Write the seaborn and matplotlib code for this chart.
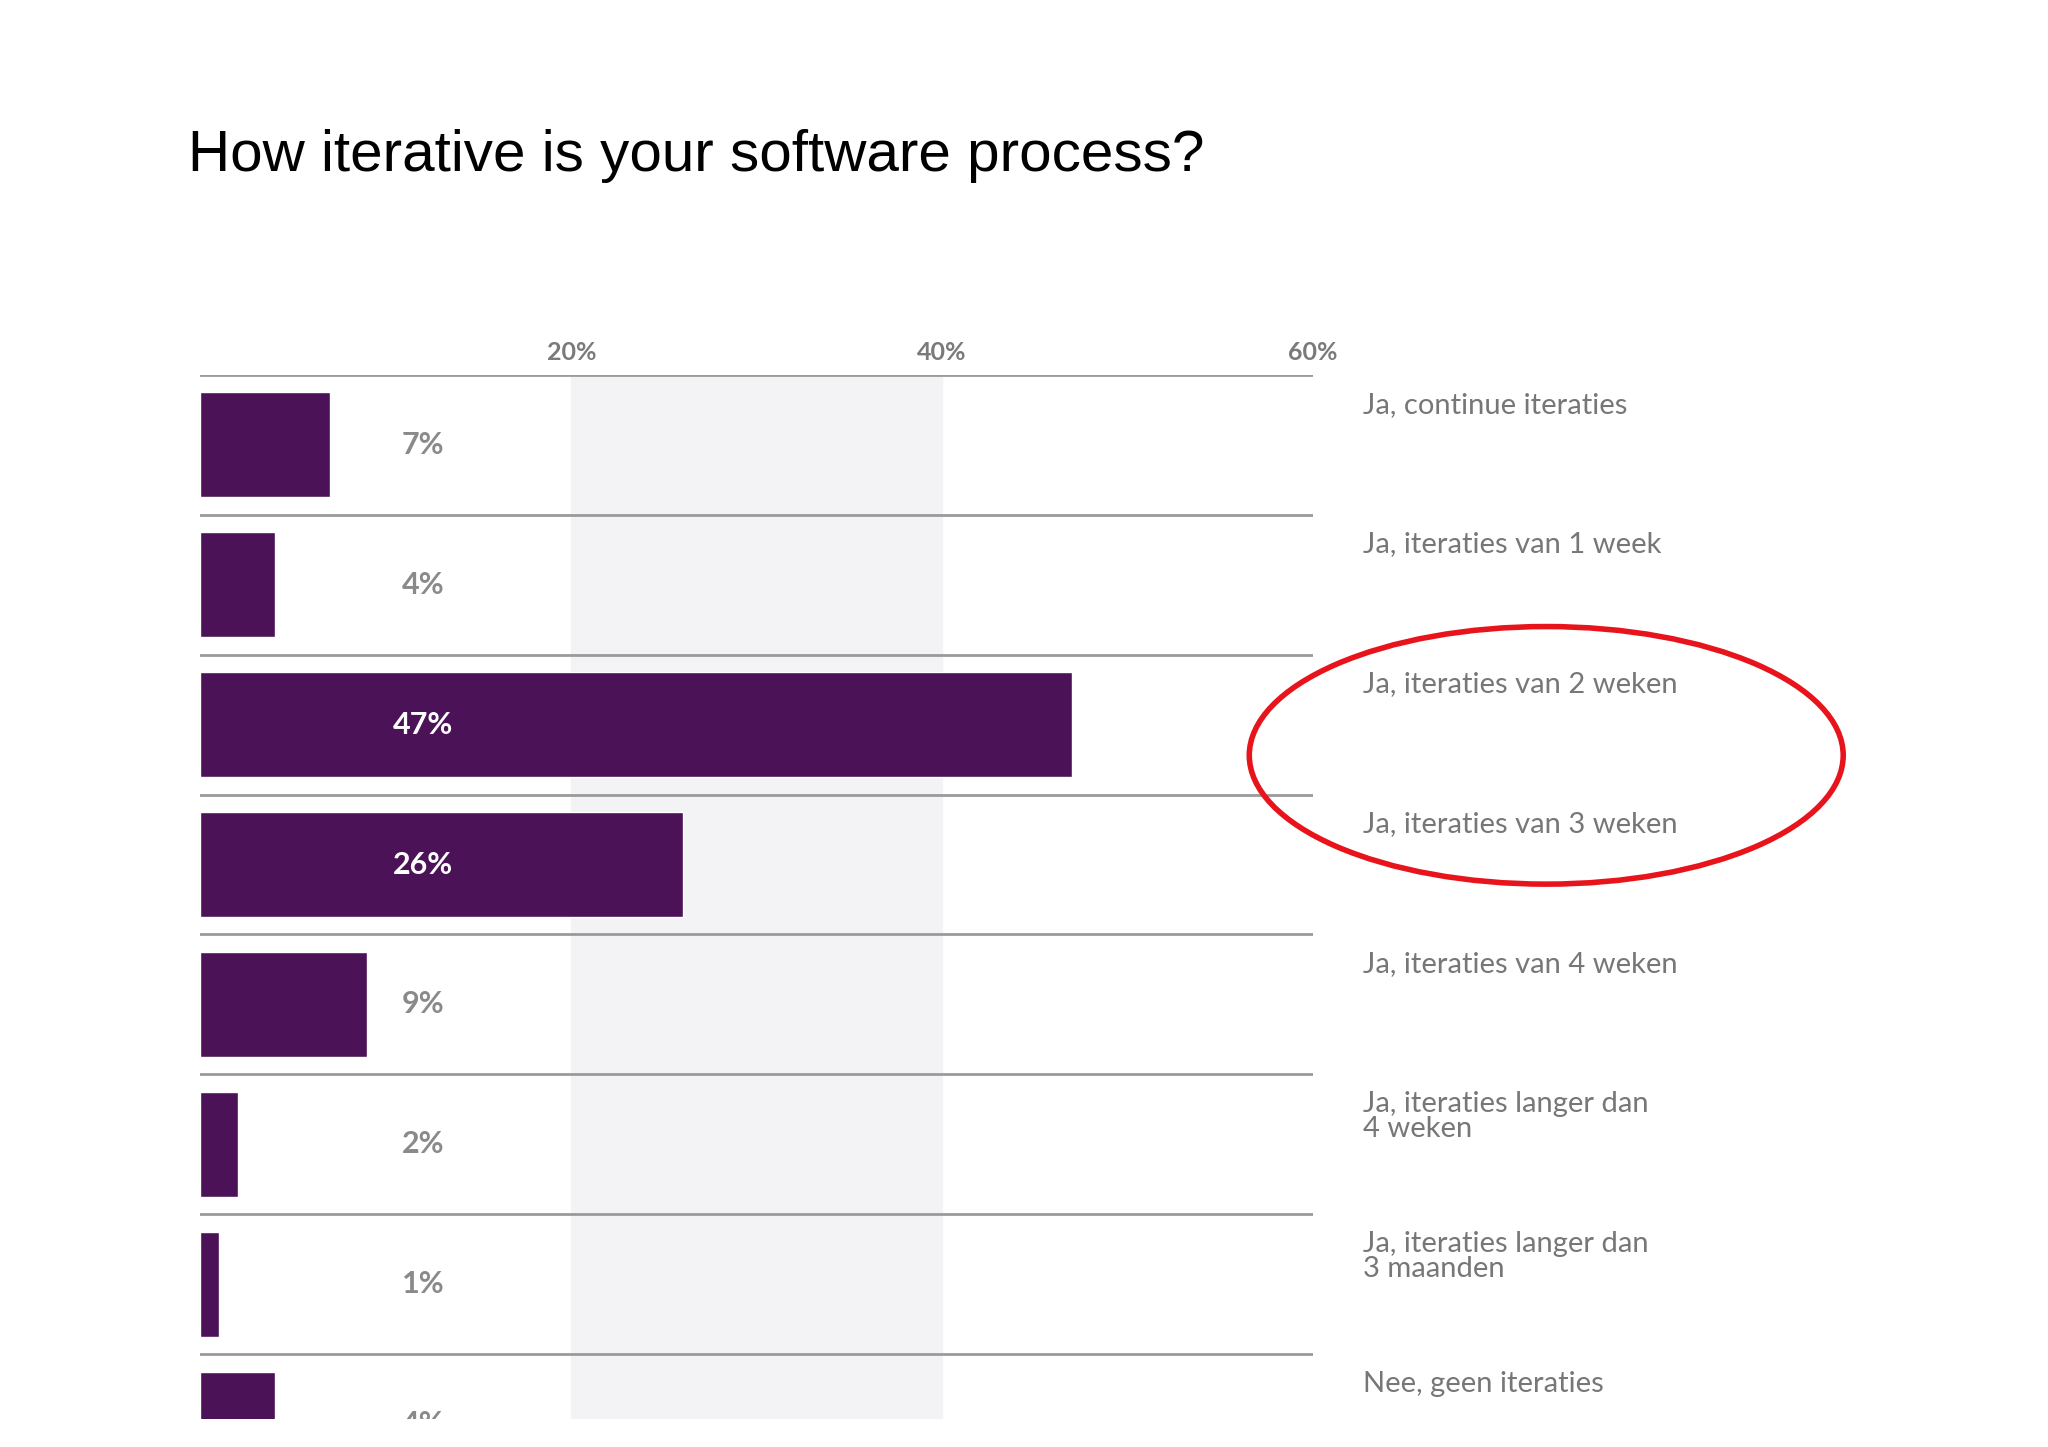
import matplotlib
matplotlib.use("Agg")
import matplotlib.pyplot as plt
import seaborn as sns
import pandas as pd
from matplotlib.patches import Ellipse

categories = ["Ja, continue iteraties", "Ja, iteraties van 1 week", "Ja, iteraties van 2 weken",
              "Ja, iteraties van 3 weken", "Ja, iteraties van 4 weken",
              "Ja, iteraties langer dan\n4 weken", "Ja, iteraties langer dan\n3 maanden",
              "Nee, geen iteraties"]
values = [7, 4, 47, 26, 9, 2, 1, 4]
tick_values = [20, 40, 60]
tick_labels = ["20%", "40%", "60%"]

sns.set_theme(style="white")
plt.rcParams['font.family'] = ['Lato', 'DejaVu Sans']

df = pd.DataFrame({"cat": categories, "val": values})
fig = plt.figure(figsize=(20.48, 14.47), dpi=100)
ax = fig.add_axes([0.0979, 0.0196, 0.5432, 0.7214])

ax.axvspan(20, 40, color="#f3f3f5", zorder=0)
sns.barplot(data=df, x="val", y="cat", orient="h", color="#4c1257", width=0.75,
            saturation=1, ax=ax, zorder=2)
ax.set_xlim(0, 60)
ax.set_ylim(6.96, -0.5)
for i in range(len(categories)):
    ax.axhline(i - 0.5, color="#9a9a9a", lw=2, zorder=3)
for s in ax.spines.values():
    s.set_visible(False)
ax.set_xlabel(""); ax.set_ylabel("")
ax.set_yticks([])
ax.xaxis.tick_top()
ax.set_xticks(tick_values)
ax.set_xticklabels(tick_labels, fontsize=18, color="#7a7a7a", fontweight="bold")
ax.tick_params(axis="x", length=0, pad=8)

for i, (c, v) in enumerate(zip(categories, values)):
    big = v > 15
    ax.text(12, i, f"{v}%", ha="center", va="center", fontsize=22,
            color="white" if big else "#8a8a8a", fontweight="bold", zorder=4, clip_on=True)
    ax.text(1.045, i - 0.38, c, transform=ax.get_yaxis_transform(), ha="left", va="top",
            fontsize=21, color="#777777", linespacing=0.95, clip_on=False)

fig.text(0.092, 0.892, "How iterative is your software process?",
         fontsize=42, color="black", family=["Liberation Sans", "DejaVu Sans"], va="center")

fig.patches.append(Ellipse((0.755, 0.478), 0.29, 0.178, transform=fig.transFigure,
                           fill=False, edgecolor="#e8141b", lw=4))

fig.savefig("out.png", dpi=100, facecolor="white")
